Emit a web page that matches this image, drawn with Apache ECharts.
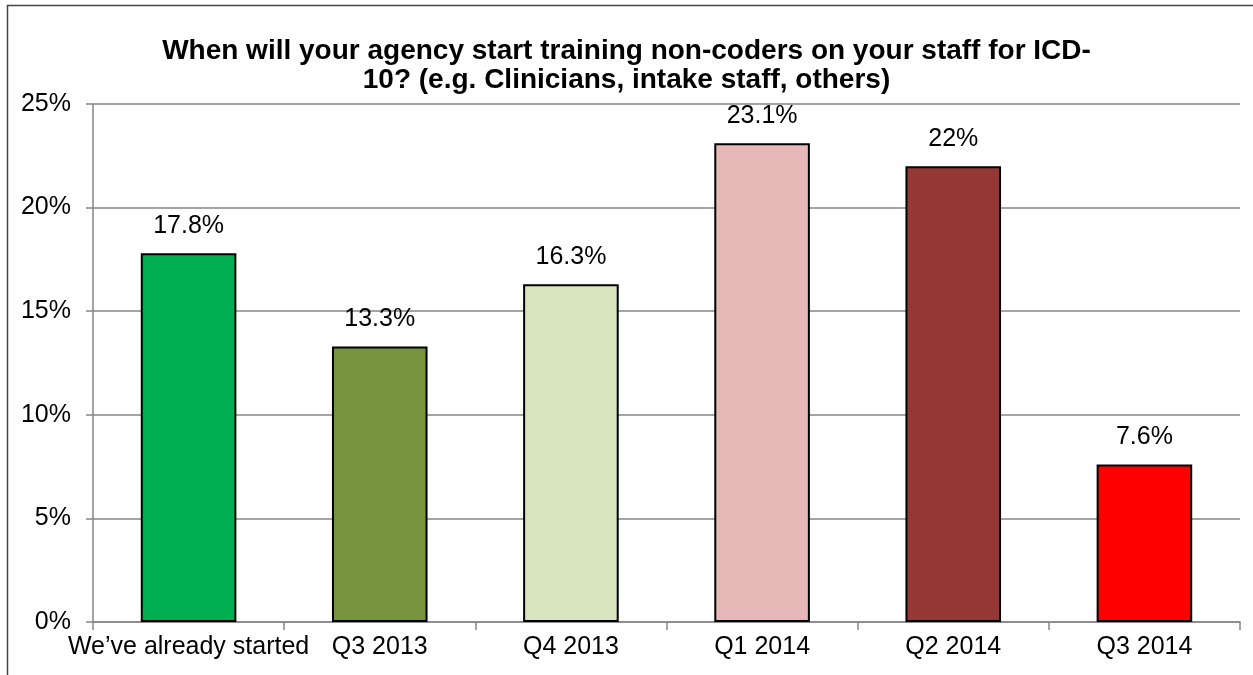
<!DOCTYPE html>
<html><head><meta charset="utf-8">
<script src="https://cdn.jsdelivr.net/npm/echarts@6/dist/echarts.min.js"></script>
<style>html,body{margin:0;padding:0;background:#fff}#c{width:1253px;height:675px}</style>
</head><body><div id="c"></div>
<script>
const categories = ["We\u2019ve already started", "Q3 2013", "Q4 2013", "Q1 2014", "Q2 2014", "Q3 2014"];
const values = [17.8, 13.3, 16.3, 23.1, 22, 7.6];
const valueLabels = ["17.8%", "13.3%", "16.3%", "23.1%", "22%", "7.6%"];
const barColors = ["#00B050", "#77933C", "#D7E4BD", "#E6B9B8", "#953735", "#FF0000"];
const titleText = "When will your agency start training non-coders on your staff for ICD-\n10? (e.g. Clinicians, intake staff, others)";

const font = "'Liberation Sans', Arial, sans-serif";
const chart = echarts.init(document.getElementById('c'));
chart.setOption({
  animation: false,
  backgroundColor: '#fff',
  graphic: [{type:'rect', shape:{x:7.5,y:5.5,width:1260,height:700}, style:{fill:'none', stroke:'#444', lineWidth:1.5}, silent:true}],
  title: {
    text: titleText, left: 'center', top: 32,
    textStyle: {fontFamily: font, fontSize: 28, fontWeight: 'bold', color: '#000', lineHeight: 29}
  },
  grid: {left: 93, right: 13, top: 104, bottom: 53, containLabel: false},
  xAxis: {
    type: 'category', data: categories,
    axisLine: {lineStyle: {color: '#868686', width: 1.5}},
    axisTick: {show: true, length: 8, lineStyle: {color: '#868686', width: 1.5}},
    axisLabel: {fontFamily: font, fontSize: 25, color: '#000', margin: 13, interval: 0}
  },
  yAxis: {
    type: 'value', min: 0, max: 25, interval: 5,
    axisLine: {show: true, lineStyle: {color: '#868686', width: 1.5}},
    axisTick: {show: true, length: 7, lineStyle: {color: '#868686', width: 1.5}},
    splitLine: {lineStyle: {color: '#868686', width: 1.5}},
    axisLabel: {fontFamily: font, fontSize: 25, color: '#000', margin: 22, formatter: '{value}%'}
  },
  series: [{
    type: 'bar', barWidth: '50%',
    data: values.map((v, i) => ({value: v, itemStyle: {color: barColors[i]}})),
    itemStyle: {borderColor: '#000', borderWidth: 2},
    label: {show: true, position: 'top', distance: 15, fontFamily: font, fontSize: 25, color: '#000',
      formatter: p => valueLabels[p.dataIndex]}
  }]
});
</script></body></html>
